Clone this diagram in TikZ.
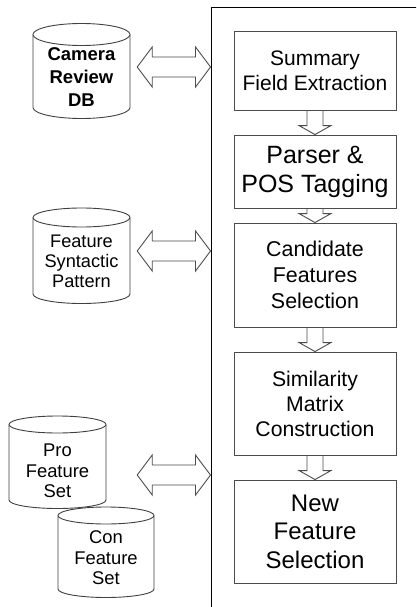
\documentclass[tikz,border=0pt]{standalone}
\usepackage{fontspec}
\setmainfont{Liberation Sans}
\usetikzlibrary{calc}
\tikzset{
  procbox/.style={draw=black!70, line width=0.9pt, fill=white, minimum width=162pt, align=center, inner sep=0pt},
  dbshape/.style={draw=black!75, line width=0.9pt, fill=white},
  blockarrow/.style={draw=black!70, line width=0.9pt, fill=white, line join=miter},
  dblabel/.style={align=center, inner sep=0pt, minimum width=97pt},
  framebox/.style={draw=black, line width=1pt, inner sep=0pt}
}
% #1 left x, #2 right x, #3 top ellipse centre y, #4 bottom ellipse centre y, #5 x radius, #6 y radius
\newcommand\dbcyl[6]{%
  \path[dbshape] (#1,#3) -- (#1,#4) arc[start angle=180,end angle=360,x radius=#5pt,y radius=#6pt]
    -- (#2,#3) arc[start angle=0,end angle=180,x radius=#5pt,y radius=#6pt] -- cycle;
  \draw[dbshape] (#1,#3) arc[start angle=180,end angle=360,x radius=#5pt,y radius=#6pt];
}
% horizontal double block arrow between two tip coordinates
\newcommand\hdarrow[2]{%
  \path[blockarrow] let \p1=#1, \p2=#2 in
    (\x1,\y1) -- ({\x1+15pt},{\y1+20pt}) -- ({\x1+15pt},{\y1+10pt}) -- ({\x2-15pt},{\y1+10pt})
    -- ({\x2-15pt},{\y1+20pt}) -- (\x2,\y1) -- ({\x2-15pt},{\y1-20pt}) -- ({\x2-15pt},{\y1-10pt})
    -- ({\x1+15pt},{\y1-10pt}) -- ({\x1+15pt},{\y1-20pt}) -- cycle;
}
% vertical block arrow from box south to next box north
\newcommand\vdarrow[2]{%
  \draw[blockarrow, fill=none] let \p1=#1, \p2=#2 in
    ({\x1-8pt},\y1) -- ({\x1-8pt},{\y2+9pt}) -- ({\x1-16pt},{\y2+9pt}) -- (\x1,\y2)
    -- ({\x1+16pt},{\y2+9pt}) -- ({\x1+8pt},{\y2+9pt}) -- ({\x1+8pt},\y1);
}
\begin{document}
\begin{tikzpicture}[x=1pt,y=-1pt]
\useasboundingbox (0,0) rectangle (416,607);
\clip (0,0) rectangle (416,607);
\fill[white] (0,0) rectangle (416,607);

% system frame (extends beyond the right and bottom edges)
\node[framebox, anchor=north west, minimum width=230pt, minimum height=640pt] (system) at (210.5,7.5) {};

% databases
\dbcyl{33}{130}{34.5}{107.5}{48.5}{11}
\node[dblabel, font=\bfseries\fontsize{18.5}{23}\selectfont] (camera) at (81.5,77) {Camera\\Review\\DB};

\dbcyl{33}{130}{217.5}{294}{48.5}{9.5}
\node[dblabel, font=\fontsize{18.2}{20}\selectfont] (fsp) at (81.5,261) {Feature\\Syntactic\\Pattern};

\dbcyl{9}{106}{424.5}{500}{48.5}{8.5}
\node[dblabel, font=\fontsize{18.4}{20.5}\selectfont] (pro) at (57.5,471) {Pro\\Feature\\Set};

\dbcyl{58}{154}{515.5}{589}{48}{8.5}
\node[dblabel, minimum width=96pt, font=\fontsize{18.4}{20.5}\selectfont] (con) at (106,558) {Con\\Feature\\Set};

% process boxes
\node[procbox, minimum height=79pt, font=\fontsize{21}{25}\selectfont] (summary) at (315,70.5) {Summary\\Field Extraction};
\node[procbox, minimum height=73pt, font=\fontsize{25}{29}\selectfont] (parser) at (315,171.5) {Parser \&\\POS Tagging};
\node[procbox, minimum height=104pt, font=\fontsize{21.4}{26}\selectfont] (candidate) at (315,275) {Candidate\\Features\\Selection};
\node[procbox, minimum height=103pt, font=\fontsize{21.2}{25}\selectfont] (similarity) at (315,403.5) {Similarity\\Matrix\\Construction};
\node[procbox, minimum height=103pt, font=\fontsize{24}{28.5}\selectfont] (newfeat) at (315,531.5) {New\\Feature\\Selection};

% vertical flow arrows
\vdarrow{(summary.south)}{(parser.north)}
\vdarrow{(parser.south)}{(candidate.north)}
\vdarrow{(candidate.south)}{(similarity.north)}
\vdarrow{(similarity.south)}{(newfeat.north)}

% horizontal double arrows
\coordinate (a1l) at ($(camera.east |- 0,67)+(7,0)$);
\coordinate (a1r) at (system.west |- a1l);
\hdarrow{(a1l)}{(a1r)}
\coordinate (a2l) at ($(fsp.east |- 0,251)+(7,0)$);
\coordinate (a2r) at (system.west |- a2l);
\hdarrow{(a2l)}{(a2r)}
\coordinate (a3l) at ($(pro.east |- 0,475)+(31,0)$);
\coordinate (a3r) at (system.west |- a3l);
\hdarrow{(a3l)}{(a3r)}
\end{tikzpicture}
\end{document}
